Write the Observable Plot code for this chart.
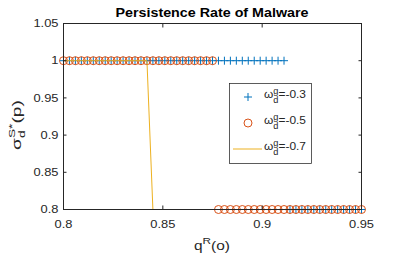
<!DOCTYPE html>
<html>
<head>
<meta charset="utf-8">
<script src="https://cdn.jsdelivr.net/npm/d3@7"></script>
<script src="https://cdn.jsdelivr.net/npm/@observablehq/plot@0.6"></script>
<style>
  html, body { margin: 0; padding: 0; background: #fff; }
  svg { display: block; }
</style>
</head>
<body>
<div id="chart"></div>
<script>
// ---- data ----
const q = [0.800,0.803,0.806,0.809,0.812,0.815,0.818,0.821,0.824,0.827,
           0.830,0.833,0.836,0.839,0.842,0.845,0.848,0.851,0.854,0.857,
           0.860,0.863,0.866,0.869,0.872,0.875,0.878,0.881,0.884,0.887,
           0.890,0.893,0.896,0.899,0.902,0.905,0.908,0.911,0.914,0.917,
           0.920,0.923,0.926,0.929,0.932,0.935,0.938,0.941,0.944,0.947,0.950];
const sigma03 = [1,1,1,1,1,1,1,1,1,1, 1,1,1,1,1,1,1,1,1,1,
                 1,1,1,1,1,1,1,1,1,1, 1,1,1,1,1,1,1,1,0.8,0.8,
                 0.8,0.8,0.8,0.8,0.8,0.8,0.8,0.8,0.8,0.8,0.8];
const sigma05 = [1,1,1,1,1,1,1,1,1,1, 1,1,1,1,1,1,1,1,1,1,
                 1,1,1,1,1,1,0.8,0.8,0.8,0.8, 0.8,0.8,0.8,0.8,0.8,0.8,0.8,0.8,0.8,0.8,
                 0.8,0.8,0.8,0.8,0.8,0.8,0.8,0.8,0.8,0.8,0.8];
const sigma07 = [1,1,1,1,1,1,1,1,1,1, 1,1,1,1,1,0.8,0.8,0.8,0.8,0.8,
                 0.8,0.8,0.8,0.8,0.8,0.8,0.8,0.8,0.8,0.8, 0.8,0.8,0.8,0.8,0.8,0.8,0.8,0.8,0.8,0.8,
                 0.8,0.8,0.8,0.8,0.8,0.8,0.8,0.8,0.8,0.8,0.8];
const seriesNames = ["-0.3", "-0.5", "-0.7"];
const xTicks = [0.8, 0.85, 0.9, 0.95];
const yTicks = [0.8, 0.85, 0.9, 0.95, 1, 1.05];
const titleText = "Persistence Rate of Malware";

const colors = {"-0.3": "#0072BD", "-0.5": "#D95319", "-0.7": "#EDB120"};
const axisColor = "#262626";
const fmt = d => String(+d.toFixed(2));

const s03 = q.map((x, i) => ({q: x, s: sigma03[i]}));
const s05 = q.map((x, i) => ({q: x, s: sigma05[i]}));
const s07 = q.map((x, i) => ({q: x, s: sigma07[i]}));

const W = 399, H = 254;
const mL = 63, mR = 38, mT = 23, mB = 45;
const font = "'Liberation Sans', Arial, Helvetica, sans-serif";

const svg = Plot.plot({
  width: W,
  height: H,
  marginLeft: mL,
  marginRight: mR,
  marginTop: mT,
  marginBottom: mB,
  style: {fontFamily: font, background: "#fff", color: axisColor, overflow: "visible"},
  x: {domain: [0.8, 0.95], type: "linear"},
  y: {domain: [0.8, 1.05], type: "linear"},
  marks: [
    Plot.dot(s03, {x: "q", y: "s", symbol: "plus", r: 2.7, stroke: colors["-0.3"], strokeWidth: 1, fill: "none"}),
    Plot.dot(s05, {x: "q", y: "s", symbol: "circle", r: 4, stroke: colors["-0.5"], strokeWidth: 1, fill: "none"}),
    Plot.line(s07, {x: "q", y: "s", stroke: colors["-0.7"], strokeWidth: 1}),
    Plot.frame({stroke: axisColor, strokeWidth: 1}),
    Plot.axisX(xTicks, {anchor: "bottom", tickSize: 0, tickPadding: 10, tickFormat: fmt, label: null, fontSize: 11.5, fill: axisColor}),
    Plot.axisX(xTicks, {anchor: "bottom", tickSize: -3.5, fill: "none", label: null, stroke: axisColor}),
    Plot.axisX(xTicks, {anchor: "top", tickSize: -3.5, fill: "none", label: null, stroke: axisColor}),
    Plot.axisY(yTicks, {anchor: "left", tickSize: 0, tickPadding: 5, tickFormat: fmt, label: null, fontSize: 11.5, fill: axisColor}),
    Plot.axisY(yTicks, {anchor: "left", tickSize: -3.5, fill: "none", label: null, stroke: axisColor}),
    Plot.axisY(yTicks, {anchor: "right", tickSize: -3.5, fill: "none", label: null, stroke: axisColor})
  ]
});

document.getElementById("chart").appendChild(svg);

const root = d3.select(svg);

// widen glyphs horizontally (reference is a non-uniformly scaled MATLAB figure)
function stretch(el, s) {
  const x = +el.getAttribute("x") || 0;
  const t = el.getAttribute("transform") || "";
  el.setAttribute("transform", `${t} translate(${x},0) scale(${s},1) translate(${-x},0)`);
}
function fitWidth(el, target) {
  const w = el.getBBox().width;
  if (w > 0) stretch(el, target / w);
}
root.selectAll("g[aria-label$='tick label'] text").each(function() { stretch(this, 1.12); });

// ---- title ----
const cx = mL + (W - mL - mR) / 2;
const title = root.append("text")
  .attr("x", cx).attr("y", 17)
  .attr("text-anchor", "middle")
  .attr("font-family", font).attr("font-size", 13).attr("font-weight", "bold")
  .attr("fill", "#000")
  .text(titleText);
fitWidth(title.node(), 193);

// ---- x label q^R(o) ----
const xl = root.append("text")
  .attr("x", cx).attr("y", 250)
  .attr("text-anchor", "middle")
  .attr("font-family", font).attr("font-size", 12.5)
  .attr("fill", axisColor);
xl.append("tspan").text("q");
xl.append("tspan").attr("dy", -6).attr("font-size", 9.5).text("R");
xl.append("tspan").attr("dy", 6).text("(o)");
fitWidth(xl.node(), 36);

// ---- y label sigma_d^{S*}(p) ----
const yl = root.append("text")
  .attr("x", 0).attr("y", 0)
  .attr("transform", "translate(21,125) rotate(-90)")
  .attr("text-anchor", "middle")
  .attr("font-family", font).attr("font-size", 12.5)
  .attr("fill", axisColor);
yl.append("tspan").text("σ");
yl.append("tspan").attr("dy", -6).attr("font-size", 9).text("S*");
yl.append("tspan").attr("dx", -9.5).attr("dy", 9.5).attr("font-size", 9).text("d");
yl.append("tspan").attr("dx", 4.5).attr("dy", -3.5).text("(p)");
fitWidth(yl.node(), 50);

// ---- legend ----
const lg = root.append("g");
lg.append("rect")
  .attr("x", 229.5).attr("y", 83.5).attr("width", 82).attr("height", 80)
  .attr("fill", "#fff").attr("stroke", axisColor).attr("stroke-width", 0.75);

const rows = [
  {name: seriesNames[0], y: 97, kind: "plus"},
  {name: seriesNames[1], y: 123, kind: "circle"},
  {name: seriesNames[2], y: 149, kind: "line"}
];
rows.forEach(r => {
  const c = colors[r.name];
  if (r.kind === "plus") {
    lg.append("path").attr("d", d3.symbol(d3.symbolPlus, 2.7 * 2.7 * Math.PI)())
      .attr("transform", `translate(248,${r.y})`).attr("fill", "none").attr("stroke", c).attr("stroke-width", 1);
  } else if (r.kind === "circle") {
    lg.append("circle").attr("cx", 248).attr("cy", r.y).attr("r", 4)
      .attr("fill", "none").attr("stroke", c).attr("stroke-width", 1);
  } else {
    lg.append("line").attr("x1", 233).attr("x2", 262).attr("y1", r.y).attr("y2", r.y)
      .attr("stroke", c).attr("stroke-width", 1);
  }
  const t = lg.append("text")
    .attr("x", 264).attr("y", r.y + 1.5)
    .attr("text-anchor", "start")
    .attr("font-family", font).attr("font-size", 11)
    .attr("fill", axisColor);
  t.append("tspan").text("ω");
  t.append("tspan").attr("dy", -4.5).attr("font-size", 8.5).text("g");
  t.append("tspan").attr("dx", -4.7).attr("dy", 9).attr("font-size", 8.5).text("d");
  t.append("tspan").attr("dy", -4.5).text("=" + r.name);
  fitWidth(t.node(), 42);
});
</script>
</body>
</html>
